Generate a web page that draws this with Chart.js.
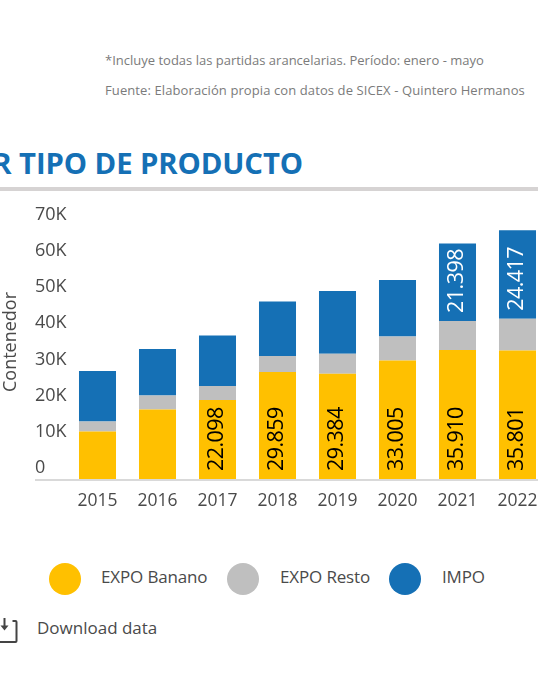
<!DOCTYPE html>
<html><head><meta charset="utf-8">
<style>
html,body{margin:0;padding:0;background:#fff;width:538px;height:681px;overflow:hidden;font-family:"Open Sans",sans-serif}
.a{position:absolute;white-space:nowrap}
#c{position:absolute;left:0;top:190px}
</style>
<script src="https://cdn.jsdelivr.net/npm/chart.js@4"></script>
</head><body>
<div class="a" style="left:105px;top:51px;font-size:13px;line-height:18px;color:#7b7b7b">*Incluye todas las partidas arancelarias. Período: enero - mayo</div>
<div class="a" style="left:105px;top:81px;font-size:13px;line-height:18px;color:#7b7b7b;letter-spacing:.1px">Fuente: Elaboración propia con datos de SICEX - Quintero Hermanos</div>
<div class="a" style="right:235px;top:142px;font-size:29.3px;line-height:42px;font-weight:700;color:#1570b5;letter-spacing:-.1px">POR TIPO DE PRODUCTO</div>
<div class="a" style="left:0;top:187px;width:538px;height:4px;background:#d6d3d3"></div>
<canvas id="c" width="560" height="330" style="width:560px;height:330px"></canvas>
<div id="legend"></div>
<svg class="a" style="left:0;top:617px" width="20" height="28" viewBox="0 0 20 28"><path d="M12.500 4h3a1 1 0 0 1 1 1v19a1 1 0 0 1-1 1H0" fill="none" stroke="#444" stroke-width="2"/><path d="M4.500 1v9" stroke="#444" stroke-width="2" fill="none"/><path d="M0.500 8.500h8l-4 5z" fill="#444"/></svg>
<div class="a" style="left:37px;top:616px;font-size:17px;line-height:24px;color:#4a4a4a">Download data</div>
<script>
const categories = ["2015","2016","2017","2018","2019","2020","2021","2022"];
const expoBanano = [13400,19470,22098,29859,29384,33005,35910,35801];
const expoResto = [2760,3870,3870,4420,5520,6630,8030,8750];
const impo = [13940,12840,13940,15040,17270,15610,21398,24417];
const tickValues = [0,10000,20000,30000,40000,50000,60000,70000];
const seriesNames = ["EXPO Banano","EXPO Resto","IMPO"];
const seriesColors = ["#ffc000","#bfbfbf","#1570b5"];
const labelColors = ["#000000","#000000","#ffffff"];
const labelMin = 20000;

const fmt = v => String(v).replace(/\B(?=(\d{3})+$)/g,".");

const barLabels = {
  id:"barLabels",
  afterDatasetsDraw(chart){
    const ctx = chart.ctx;
    chart.data.datasets.forEach((ds,i)=>{
      chart.getDatasetMeta(i).data.forEach((bar,j)=>{
        const v = ds.data[j];
        if(v < labelMin) return;
        ctx.save();
        ctx.translate(bar.x-1, bar.base-8);
        ctx.rotate(-Math.PI/2);
        ctx.font = '21.5px "Open Sans"';
        ctx.letterSpacing = "-0.55px";
        ctx.textAlign = "left";
        ctx.textBaseline = "middle";
        ctx.fillStyle = labelColors[i];
        ctx.fillText(fmt(v),0,0);
        ctx.restore();
      });
    });
  }
};

new Chart(document.getElementById("c"),{
  type:"bar",
  data:{labels:categories,datasets:[expoBanano,expoResto,impo].map((d,i)=>({
    label:seriesNames[i],data:d,backgroundColor:seriesColors[i],
    categoryPercentage:1,barPercentage:0.617,borderWidth:0
  }))},
  options:{
    responsive:false,animation:false,
    layout:{padding:{top:14,right:12.5,left:0,bottom:0}},
    plugins:{legend:{display:false},tooltip:{enabled:false}},
    scales:{
      x:{stacked:true,
        afterFit(s){s.height=40},
        border:{display:false},
        grid:{display:false},
        ticks:{color:"#4a4a4a",font:{family:"Open Sans",size:17.5},padding:3,maxRotation:0,autoSkip:false}
      },
      y:{stacked:true,min:0,max:76240,
        afterFit(s){s.width=67.5},
        afterBuildTicks(s){s.ticks=tickValues.map(v=>({value:v}))},
        border:{display:false},
        grid:{z:1,lineWidth:2,tickLength:32.5,
          color:c=>c.tick&&c.tick.value===0?"#d9d9d9":"transparent"},
        ticks:{mirror:true,padding:-32.5,crossAlign:"near",labelOffset:-12,color:"#4a4a4a",
          font:{family:"Open Sans",size:18},
          callback:v=>v===0?"0":(v/1000)+"K"},
        title:{display:true,text:"Contenedor",color:"#4a4a4a",padding:0,
          font:{family:"Open Sans",size:18}}
      }
    }
  },
  plugins:[barLabels]
});

const legendX=[49,227,389], legendTextX=[101,280,442];
const lg=document.getElementById("legend");
seriesNames.forEach((n,i)=>{
  const dot=document.createElement("div");
  dot.className="a";
  dot.style.cssText=`left:${legendX[i]}px;top:563px;width:32px;height:32px;border-radius:50%;background:${seriesColors[i]}`;
  const t=document.createElement("div");
  t.className="a";t.textContent=n;
  t.style.cssText=`left:${legendTextX[i]}px;top:565px;font-size:17px;line-height:24px;color:#4a4a4a;letter-spacing:-.15px`;
  lg.append(dot,t);
});
</script>
</body></html>
